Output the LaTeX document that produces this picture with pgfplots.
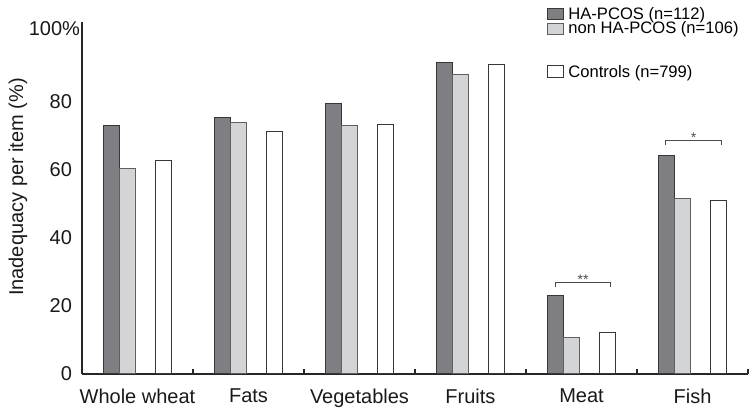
\documentclass[border=0pt]{standalone}
\usepackage{fontspec}
\setmainfont{Liberation Sans}
\usepackage{pgfplots}
\pgfplotsset{compat=1.18}
\definecolor{darkg}{RGB}{126,126,131}
\definecolor{lightg}{RGB}{211,212,214}
\definecolor{edgec}{RGB}{55,55,55}
\begin{document}
\begin{tikzpicture}
\begin{axis}[
  name=ax,
  scale only axis, width=333pt, height=176pt,
  xmin=0.5, xmax=6.5, ymin=0, ymax=103.2,
  clip=false,
  axis lines=left,
  axis line style={-, line width=0.6pt, color=black!85},
  xtick={1,2,3,4,5,6},
  xticklabels={Whole wheat, Fats, Vegetables, Fruits, Meat, Fish},
  minor xtick={1.5,2.5,3.5,4.5,5.5,6.5},
  major tick length=0pt, minor tick length=2.5pt, tick align=inside,
  every minor tick/.style={black!85, line width=0.6pt},
  ytick={0,20,40,60,80,100},
  yticklabels={0,20,40,60,80,{\raisebox{4pt}{100\%}\hspace*{-4pt}}},
  /pgf/number format/assume math mode=true,
  tick label style={font=\fontsize{10}{12}\selectfont, color=black!90},
  xticklabel style={yshift=-4pt},
  yticklabel style={xshift=-1.5pt},
  ylabel={Inadequacy per item (\%)},
  every axis y label/.style={at={([xshift=-32pt,yshift=5.5pt]rel axis cs:0,0.5)}, rotate=90, anchor=center, font=\fontsize{10}{12}\selectfont, color=black!90},
]
\addplot[ybar, bar width=0.144, bar shift=-0.234, fill=darkg, draw=edgec, line width=0.5pt]
  coordinates {(1,72.8) (2,75.3) (3,79.4) (4,91.3) (5,23.1) (6,64.2)};
\addplot[ybar, bar width=0.144, bar shift=-0.09, fill=lightg, draw=edgec!80, line width=0.5pt]
  coordinates {(1,60.3) (2,73.8) (3,73.0) (4,87.7) (5,10.8) (6,51.5)};
\addplot[ybar, bar width=0.144, bar shift=0.234, fill=white, draw=edgec, line width=0.5pt]
  coordinates {(1,62.6) (2,71.1) (3,73.2) (4,90.6) (5,12.3) (6,51.0)};
% significance brackets
\draw[line width=0.5pt, black!70] (axis cs:4.768,25.4) -- (axis cs:4.768,26.9) -- (axis cs:5.263,26.9) -- (axis cs:5.263,25.4);
\node[anchor=base, inner sep=0pt, yshift=-1pt, font=\fontsize{7}{8}\selectfont, black!70] at (axis cs:5.015,26.9) {**};
\draw[line width=0.5pt, black!70] (axis cs:5.761,67.1) -- (axis cs:5.761,68.6) -- (axis cs:6.257,68.6) -- (axis cs:6.257,67.1);
\node[anchor=base, inner sep=0pt, yshift=-1pt, font=\fontsize{7}{8}\selectfont, black!70] at (axis cs:6.009,68.6) {*};
\end{axis}
\begin{scope}[shift={([shift={(-41pt,187pt)}]ax.south west)}, x=0.5pt, y=-0.5pt]
  \path (0,0) rectangle (750,414);
  \draw[fill=darkg, draw=edgec, line width=0.5pt] (547,8.5) rectangle (563,19.5);
  \node[anchor=base west, inner sep=0pt, font=\fontsize{8.3}{10}\selectfont] at (568,19.3) {HA-PCOS (n=112)};
  \draw[fill=lightg, draw=edgec!80, line width=0.5pt] (547,24) rectangle (563,35);
  \node[anchor=base west, inner sep=0pt, font=\fontsize{8.3}{10}\selectfont] at (568,33.3) {non HA-PCOS (n=106)};
  \draw[fill=white, draw=edgec, line width=0.5pt] (547,66) rectangle (563,78);
  \node[anchor=base west, inner sep=0pt, font=\fontsize{8.3}{10}\selectfont] at (568,77.3) {Controls (n=799)};
\end{scope}
\end{tikzpicture}
\end{document}
